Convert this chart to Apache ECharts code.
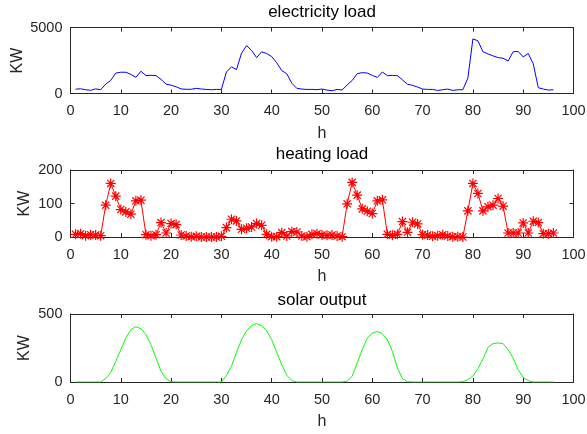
<!DOCTYPE html>
<html>
<head>
<meta charset="utf-8">
<script src="https://cdn.jsdelivr.net/npm/echarts@6/dist/echarts.min.js"></script>
<style>html,body{margin:0;padding:0;background:#fff}#c{width:587px;height:434px}</style>
</head>
<body>
<div id="c"></div>
<script>
var hours = [1,2,3,4,5,6,7,8,9,10,11,12,13,14,15,16,17,18,19,20,21,22,23,24,
25,26,27,28,29,30,31,32,33,34,35,36,37,38,39,40,41,42,43,44,45,46,47,48,
49,50,51,52,53,54,55,56,57,58,59,60,61,62,63,64,65,66,67,68,69,70,71,72,
73,74,75,76,77,78,79,80,81,82,83,84,85,86,87,88,89,90,91,92,93,94,95,96];

var electricity = [330,355,290,240,350,290,710,990,1545,1610,1610,1445,1225,1685,1355,1380,1355,1070,710,630,510,345,320,320,
390,340,310,285,310,310,1630,2020,1810,3055,3625,3260,2720,3160,3030,2800,2330,1735,1500,777,390,337,310,310,
290,337,260,207,310,260,650,984,1500,1580,1550,1370,1217,1630,1350,1370,1350,1036,700,620,490,337,310,310,
233,285,337,233,285,285,1165,4140,3990,3160,3000,2850,2720,2670,2460,3160,3190,2770,3030,2250,440,337,260,285];

var heating = [8,10,4,7,6,4,95,160,122,82,75,68,108,110,7,4,7,43,12,40,37,6,3,1,
2,0,0,0,0,2,28,53,48,23,26,30,40,35,8,1,1,13,3,16,15,3,1,8,
10,6,5,6,3,1,99,163,125,84,77,70,108,111,8,5,8,46,14,44,39,7,6,2,
4,7,3,1,1,0,78,160,130,78,90,95,115,92,12,12,12,42,12,47,43,10,10,12];

var solar = [0,0,0,0,0,0,25,71,152,238,323,385,407,392,348,274,176,78,25,2,0,0,0,0,
0,0,0,0,0,0,49,115,218,311,377,416,429,414,377,311,218,127,49,10,0,0,0,0,
0,0,0,0,0,0,7,42,140,238,323,360,372,355,311,225,103,25,2,0,0,0,0,0,
0,0,0,0,0,2,17,44,98,169,255,282,287,282,238,176,90,34,10,0,0,0,0,0];

var titles = ['electricity load', 'heating load', 'solar output'];
var yMax = [5000, 200, 500];
var yInterval = [5000, 100, 500];

function pairs(v){ return hours.map(function(h,i){ return [h, v[i]]; }); }

var FONT = 'Liberation Sans, Arial, sans-serif';
var AX = '#262626';
var gridTops = [27.5, 170, 314];
var gridH = [66, 67, 68];
var titleTops = [4, 146, 291.5];
var yNameGap = [45, 38, 38];

var grids = [], xAxes = [], yAxes = [], tls = [];
for (var k = 0; k < 3; k++) {
  grids.push({left: 70.5, right: 13.5, top: gridTops[k], height: gridH[k], containLabel: false, outerBoundsMode: 'none'});
  tls.push({text: titles[k], left: 322, top: titleTops[k], textAlign: 'center', padding: 0,
    textStyle: {fontFamily: FONT, fontSize: 17, fontWeight: 'normal', color: '#000'}});
  var common = {type: 'value', gridIndex: k, min: 0, max: 100, interval: 10,
    axisLine: {show: true, onZero: false, lineStyle: {color: AX, width: 1}},
    axisTick: {show: true, inside: true, length: 4, lineStyle: {color: AX}},
    splitLine: {show: false}};
  xAxes.push(Object.assign({}, common, {position: 'bottom', name: 'h', nameLocation: 'middle', nameGap: 32,
    nameMoveOverlap: false,
    nameTextStyle: {fontFamily: FONT, fontSize: 16, color: AX},
    axisLabel: {show: true, margin: 10, fontFamily: FONT, fontSize: 14.5, color: AX}}));
  xAxes.push(Object.assign({}, common, {position: 'top', axisLabel: {show: false}}));
  var ycommon = {type: 'value', gridIndex: k, min: 0, max: yMax[k], interval: yInterval[k],
    axisLine: {show: true, onZero: false, lineStyle: {color: AX, width: 1}},
    axisTick: {show: true, inside: true, length: 4, lineStyle: {color: AX}},
    splitLine: {show: false}};
  yAxes.push(Object.assign({}, ycommon, {position: 'left', name: 'KW', nameLocation: 'middle', nameGap: yNameGap[k], nameRotate: 90,
    nameMoveOverlap: false,
    nameTextStyle: {fontFamily: FONT, fontSize: 16, color: AX},
    axisLabel: {show: true, margin: 8, fontFamily: FONT, fontSize: 14.5, color: AX,
      formatter: function(v){ return String(v); }}}));
  yAxes.push(Object.assign({}, ycommon, {position: 'right', axisLabel: {show: false}}));
}

var star = 'path://M0,-5L0,5M-5,0L5,0M-3.6,-3.6L3.6,3.6M-3.6,3.6L3.6,-3.6';

var chart = echarts.init(document.getElementById('c'), null, {renderer: 'canvas'});
chart.setOption({
  animation: false,
  backgroundColor: '#ffffff',
  title: tls,
  grid: grids,
  xAxis: xAxes,
  yAxis: yAxes,
  series: [
    {type: 'line', xAxisIndex: 0, yAxisIndex: 0, data: pairs(electricity), showSymbol: false,
      lineStyle: {color: '#0000ff', width: 1}, itemStyle: {color: '#0000ff'}},
    {type: 'line', xAxisIndex: 2, yAxisIndex: 2, data: pairs(heating), showSymbol: true, showAllSymbol: true,
      symbol: star, symbolSize: 10,
      lineStyle: {color: '#ff0000', width: 1},
      itemStyle: {color: 'rgba(0,0,0,0)', borderColor: '#ff0000', borderWidth: 1.2}},
    {type: 'line', xAxisIndex: 4, yAxisIndex: 4, data: pairs(solar), showSymbol: false,
      lineStyle: {color: '#00ff00', width: 1}, itemStyle: {color: '#00ff00'}}
  ]
});
</script>
</body>
</html>
